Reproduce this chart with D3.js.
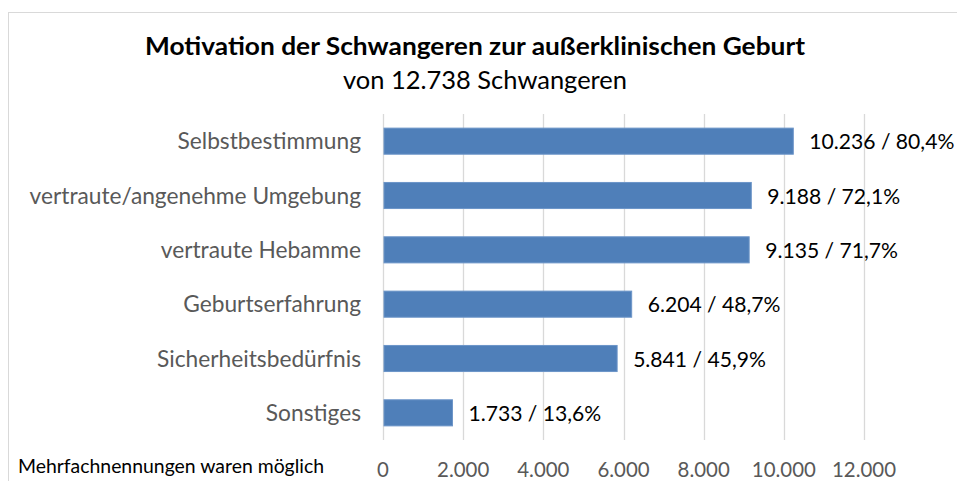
<!DOCTYPE html>
<html>
<head>
<meta charset="utf-8">
<script src="https://cdn.jsdelivr.net/npm/d3@7"></script>
<style>
  html, body { margin: 0; padding: 0; background: #fff; }
  svg { display: block; }
  text { font-family: Lato, "Open Sans", sans-serif; }
</style>
</head>
<body>
<svg id="chart" width="957" height="481"></svg>
<script>
const categories = ["Selbstbestimmung", "vertraute/angenehme Umgebung", "vertraute Hebamme", "Geburtserfahrung", "Sicherheitsbedürfnis", "Sonstiges"];
const counts = [10236, 9188, 9135, 6204, 5841, 1733];
const percents = ["80,4%", "72,1%", "71,7%", "48,7%", "45,9%", "13,6%"];
const tickValues = [0, 2000, 4000, 6000, 8000, 10000, 12000];
const total = 12738;
const titleText = "Motivation der Schwangeren zur außerklinischen Geburt";
const footnote = "Mehrfachnennungen waren möglich";

const de = d3.formatLocale({decimal: ",", thousands: ".", grouping: [3], currency: ["", " €"]});
const fmt = de.format(",d");

const svg = d3.select("#chart");

// chart border (extends beyond the visible area)
svg.append("rect")
  .attr("x", 8.5).attr("y", 12.5).attr("width", 1000).attr("height", 1000)
  .attr("fill", "none").attr("stroke", "#d9d9d9").attr("stroke-width", 1);

const x = d3.scaleLinear().domain([0, 12000]).range([383, 864]);
const y = d3.scaleBand().domain(categories).range([114, 440]).paddingInner(0.52).paddingOuter(0.26);

// scale text horizontally by a common factor so the selection's total width reaches target
function squeeze(sel, target) {
  let sum = 0;
  sel.each(function() { sum += this.getComputedTextLength(); });
  const f = target / sum;
  sel.each(function() {
    const w = this.getComputedTextLength();
    d3.select(this).attr("textLength", w * f).attr("lengthAdjust", "spacingAndGlyphs");
  });
}

// gridlines
svg.append("g").selectAll("line").data(tickValues).join("line")
  .attr("x1", d => Math.round(x(d)) + 0.5).attr("x2", d => Math.round(x(d)) + 0.5)
  .attr("y1", 114).attr("y2", 440)
  .attr("stroke", "#d9d9d9").attr("stroke-width", 1.3);

// bars
svg.append("g").selectAll("rect").data(categories).join("rect")
  .attr("x", x(0) + 1)
  .attr("y", d => y(d))
  .attr("width", (d, i) => x(counts[i]) - x(0) - 1)
  .attr("height", y.bandwidth())
  .attr("fill", "#4f7fb9")
  .attr("stroke", "#6c95c8").attr("stroke-width", 1);

// value labels
const vl = svg.append("g").selectAll("text").data(categories).join("text")
  .attr("x", (d, i) => x(counts[i]) + 16)
  .attr("y", d => y(d) + y.bandwidth() / 2)
  .attr("dy", "0.37em")
  .attr("font-size", 22)
  .attr("fill", "#000")
  .text((d, i) => fmt(counts[i]) + " / " + percents[i]);
squeeze(vl, 144 + 133 + 133 + 134 + 133 + 132);

// category labels
const cl = svg.append("g").selectAll("text").data(categories).join("text")
  .attr("x", 361)
  .attr("y", d => y(d) + y.bandwidth() / 2)
  .attr("dy", "0.37em")
  .attr("text-anchor", "end")
  .attr("font-size", 22.5)
  .attr("fill", "#595959")
  .text(d => d);
squeeze(cl, 181 + 343 + 198 + 174 + 203 + 93);

// x tick labels
const tl = svg.append("g").selectAll("text").data(tickValues).join("text")
  .attr("x", d => x(d))
  .attr("y", 477)
  .attr("text-anchor", "middle")
  .attr("font-size", 21)
  .attr("fill", "#595959")
  .text(d => fmt(d));
squeeze(tl, 13 + 52 * 4 + 64 * 2);

// title
const t1 = svg.append("text")
  .attr("x", 475).attr("y", 55)
  .attr("text-anchor", "middle")
  .attr("font-size", 25.5).attr("font-weight", "bold").attr("fill", "#000")
  .text(titleText);
squeeze(t1, 660);

const t2 = svg.append("text")
  .attr("x", 485).attr("y", 89)
  .attr("text-anchor", "middle")
  .attr("font-size", 25).attr("fill", "#000")
  .text("von " + fmt(total) + " Schwangeren");
squeeze(t2, 284);

// footnote
const fn = svg.append("text")
  .attr("x", 18).attr("y", 473)
  .attr("font-size", 19.5).attr("fill", "#000")
  .text(footnote);
squeeze(fn, 306);
</script>
</body>
</html>
